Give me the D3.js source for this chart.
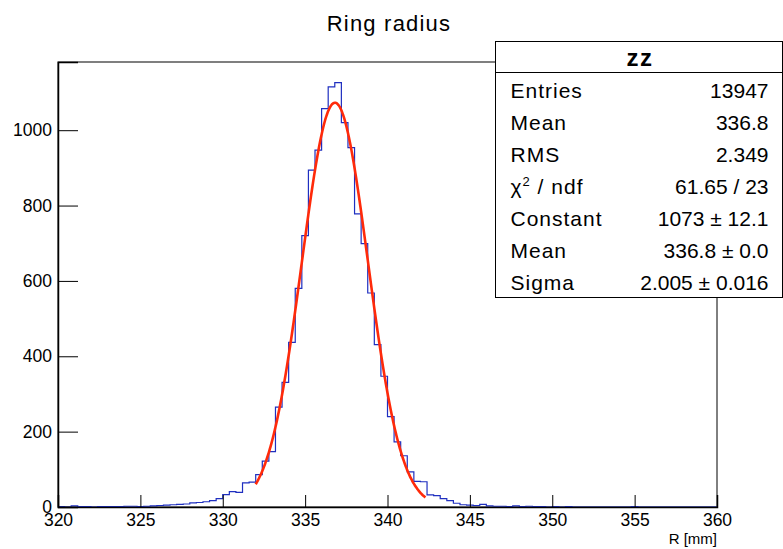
<!DOCTYPE html>
<html>
<head>
<meta charset="utf-8">
<script src="https://cdn.jsdelivr.net/npm/d3@7"></script>
<style>
  body { margin: 0; background: #fff; }
  svg { display: block; font-family: "Liberation Sans", Arial, sans-serif; }
  .axis text { font-size: 17.5px; fill: #000; }
  .axis line, .axis path { stroke: #000; }
</style>
</head>
<body>
<svg id="chart" width="783" height="549"></svg>
<script>
// histogram: 100 bins of 0.4 mm between 320 and 360
const xRange = [320, 360];
const binWidth = 0.4;
const binValues = [
    1, 0, 3, 1, 1, 0, 1, 1, 1, 1,
    2, 2, 1, 2, 3, 4, 5, 6, 7, 8,
    11, 12, 14, 17, 22, 33, 41, 39, 64, 66,
    86, 122, 147, 265, 331, 437, 580, 720, 894, 947,
    1057, 1115, 1126, 1020, 954, 778, 699, 568, 431, 347,
    240, 173, 136, 93, 68, 67, 32, 30, 22, 17,
    10, 6, 5, 4, 7, 3, 2, 2, 1, 3,
    1, 2, 1, 1, 0, 1, 0, 1, 0, 0,
    0, 0, 0, 0, 0, 0, 0, 1, 0, 0,
    0, 0, 0, 0, 0, 0, 0, 0, 0, 0
];
const yMax = 1181;

const xMajorTicks = [320, 325, 330, 335, 340, 345, 350, 355, 360];
const xMinorTicks = d3.range(320, 361, 1);
const yMajorTicks = [0, 200, 400, 600, 800, 1000];
const yMinorTicks = d3.range(0, 1151, 50);

// gaussian fit
const fitConstant = 1073;
const fitMean = 336.81;
const fitSigma = 2.005;
const fitRange = [332.0, 342.3];

const title = "Ring radius";
const xTitle = "R [mm]";
const statsName = "zz";
const statsLabels = ["Entries", "Mean", "RMS", "chi2", "Constant", "Mean", "Sigma"];
const statsValues = ["13947", "336.8", "2.349", "61.65 / 23", "1073 \u00b1 12.1", "336.8 \u00b1 0.0", "2.005 \u00b1 0.016"];

const frame = {left: 58, right: 717, top: 62, bottom: 507};
const svg = d3.select("#chart");

const x = d3.scaleLinear().domain(xRange).range([frame.left, frame.right]);
const y = d3.scaleLinear().domain([0, yMax]).range([frame.bottom, frame.top]);

// frame
svg.append("rect")
    .attr("x", frame.left).attr("y", frame.top)
    .attr("width", frame.right - frame.left).attr("height", frame.bottom - frame.top)
    .attr("fill", "none").attr("stroke", "#000").attr("stroke-width", 1);

// histogram outline
const stepPts = [];
binValues.forEach((v, i) => {
    const x0 = xRange[0] + i * binWidth;
    stepPts.push([x0, v], [x0 + binWidth, v]);
});
const line = d3.line().x(d => x(d[0])).y(d => y(d[1]));
svg.append("path")
    .attr("d", line(stepPts))
    .attr("fill", "none")
    .attr("stroke", "#1f2fc0")
    .attr("stroke-width", 1.2);

// fit function
const gauss = t => fitConstant * Math.exp(-0.5 * Math.pow((t - fitMean) / fitSigma, 2));
const fitPts = d3.range(fitRange[0], fitRange[1] + 0.001, 0.05).map(t => [t, gauss(t)]);
svg.append("path")
    .attr("d", d3.line().curve(d3.curveBasis).x(d => x(d[0])).y(d => y(d[1]))(fitPts))
    .attr("fill", "none")
    .attr("stroke", "#ff2a0a")
    .attr("stroke-width", 2.6);

// x axis (ticks inside the frame)
const gx = svg.append("g").attr("class", "axis").attr("transform", `translate(0,${frame.bottom})`);
gx.call(d3.axisBottom(x).tickValues(xMinorTicks).tickSize(-6).tickFormat(""));
gx.call(d3.axisBottom(x).tickValues(xMajorTicks).tickSize(-12).tickPadding(7).tickFormat(d3.format("d")));
gx.selectAll(".domain").attr("stroke-width", 1.5);

// y axis
const gy = svg.append("g").attr("class", "axis").attr("transform", `translate(${frame.left},0)`);
gy.call(d3.axisLeft(y).tickValues(yMinorTicks).tickSize(-10).tickFormat(""));
gy.call(d3.axisLeft(y).tickValues(yMajorTicks).tickSize(-20).tickPadding(6).tickFormat(d3.format("d")));
gy.selectAll(".domain").attr("stroke-width", 1.5);

// titles
svg.append("text")
    .attr("x", 389).attr("y", 31)
    .attr("text-anchor", "middle")
    .attr("font-size", 22)
    .attr("letter-spacing", 1.2)
    .text(title);

svg.append("text")
    .attr("x", frame.right).attr("y", 544)
    .attr("text-anchor", "end")
    .attr("font-size", 15)
    .text(xTitle);

// stats box
const box = {x: 495.5, y: 41.5, w: 287, h: 256, head: 31};
const sb = svg.append("g");
sb.append("rect")
    .attr("x", box.x).attr("y", box.y)
    .attr("width", box.w).attr("height", box.h)
    .attr("fill", "#fff").attr("stroke", "#000");
sb.append("line")
    .attr("x1", box.x).attr("x2", box.x + box.w)
    .attr("y1", box.y + box.head).attr("y2", box.y + box.head)
    .attr("stroke", "#000");
sb.append("text")
    .attr("x", box.x + box.w / 2 + 1).attr("y", box.y + 24)
    .attr("text-anchor", "middle")
    .attr("font-size", 24)
    .attr("font-weight", "bold")
    .attr("letter-spacing", 1.5)
    .text(statsName);

const rowH = (box.h - box.head) / statsLabels.length;
statsLabels.forEach((lab, i) => {
    const by = box.y + box.head + rowH * (i + 0.5) + 9;
    const t = sb.append("text")
        .attr("x", box.x + 15).attr("y", by)
        .attr("font-size", 21)
        .attr("letter-spacing", 1);
    if (lab === "chi2") {
        t.append("tspan").text("\u03c7");
        t.append("tspan").attr("font-size", 13).attr("dy", -8).text("2");
        t.append("tspan").attr("dy", 8).text(" / ndf");
    } else {
        t.text(lab);
    }
    sb.append("text")
        .attr("x", box.x + box.w - 14).attr("y", by)
        .attr("text-anchor", "end")
        .attr("font-size", 21)
        .text(statsValues[i]);
});
</script>
</body>
</html>
